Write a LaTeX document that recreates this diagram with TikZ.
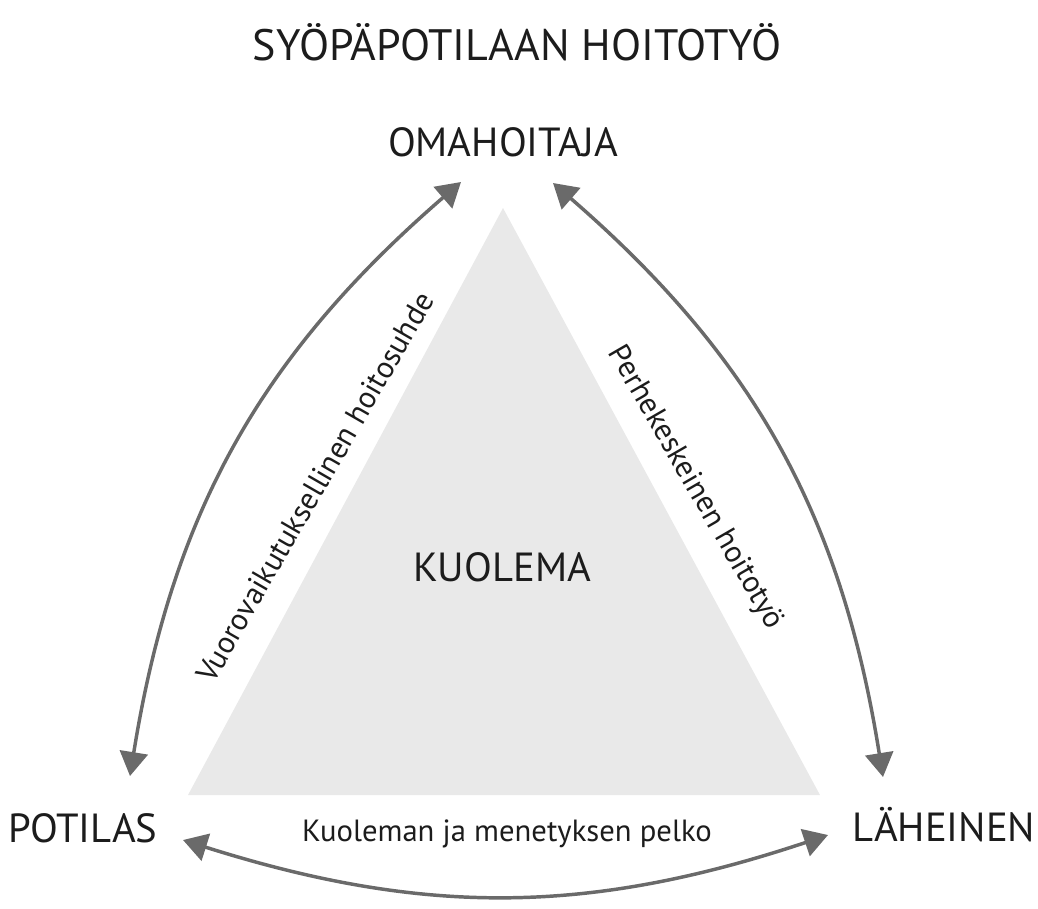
\documentclass[tikz,border=0pt]{standalone}
\usepackage{fontspec}
\setmainfont{PT Sans}
\usetikzlibrary{arrows.meta}
\definecolor{trifill}{HTML}{E9E9E9}
\definecolor{arrowgray}{HTML}{6A6A6A}
\definecolor{textcol}{HTML}{1C1C1C}
\tikzset{
  bigtext/.style={text=textcol, inner sep=0pt, font=\fontsize{30.5}{34}\selectfont},
  titletext/.style={text=textcol, inner sep=0pt, font=\fontsize{33}{36}\selectfont},
  smalltext/.style={text=textcol, inner sep=0pt, font=\fontsize{23}{27}\selectfont},
  relarrow/.style={arrowgray, line width=2.6pt, {Triangle[length=18pt,width=21pt]}-{Triangle[length=18pt,width=21pt]}}
}
\begin{document}
\begin{tikzpicture}[x=0.75pt,y=-0.75pt]
\useasboundingbox (0,0) rectangle (1038,908);
% triangle
\fill[trifill] (503,208) -- (820,795) -- (188,795) -- cycle;
% texts
\node[titletext] (title) at (517,42) {SYÖPÄPOTILAAN HOITOTYÖ};
\node[bigtext] (oma) at (503,142) {OMAHOITAJA};
\node[bigtext] (pot) at (83,828) {POTILAS};
\node[bigtext] (lah) at (944,825) {LÄHEINEN};
\node[bigtext] (kuo) at (502,567) {KUOLEMA};
\node[smalltext, rotate=60] (vuo) at (315,487) {Vuorovaikutuksellinen hoitosuhde};
\node[smalltext, rotate=-60] (per) at (695,488) {Perhekeskeinen hoitotyö};
\node[smalltext] (pel) at (507,834) {Kuoleman ja menetyksen pelko};
% arrow ends
\coordinate (omaL) at (461,182);
\coordinate (omaR) at (553,183);
\coordinate (potT) at (130,776);
\coordinate (potR) at (183,840);
\coordinate (lahT) at (883,777);
\coordinate (lahL) at (828,835);
\draw[relarrow] (omaL) to[bend right=20] (potT);
\draw[relarrow] (omaR) to[bend left=20] (lahT);
\draw[relarrow] (potR) to[bend right=18] (lahL);
\end{tikzpicture}
\end{document}
